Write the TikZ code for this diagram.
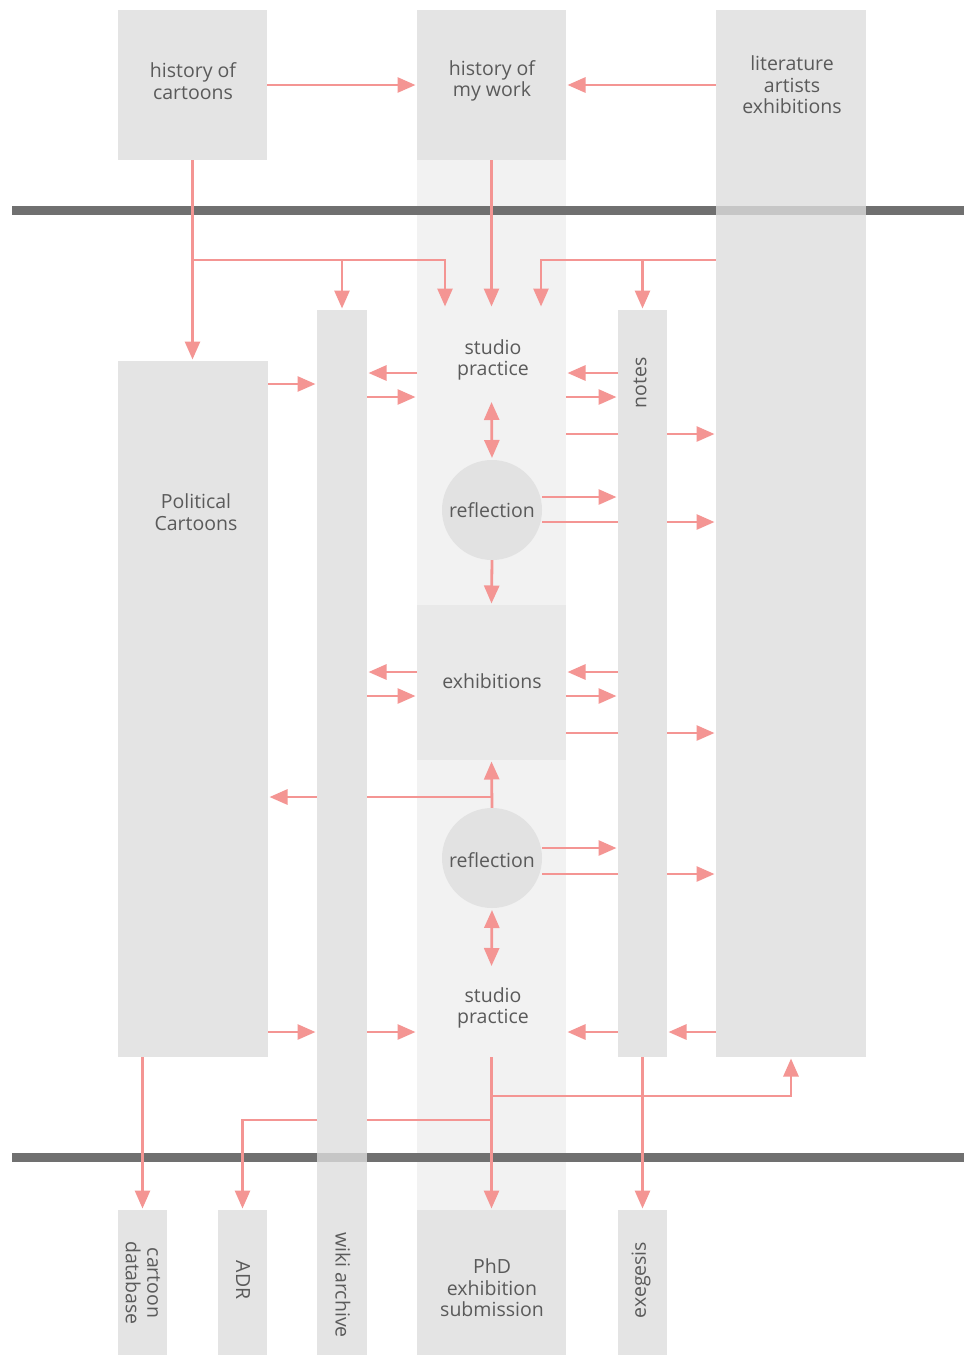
\documentclass[tikz,border=0pt]{standalone}
\usepackage{fontspec}
\setmainfont{Open Sans}
\usetikzlibrary{arrows.meta,calc}
\definecolor{boxg}{HTML}{E4E4E4}
\definecolor{bandg}{HTML}{F2F2F2}
\definecolor{exg}{HTML}{E9E9E9}
\definecolor{circg}{HTML}{E2E2E2}
\definecolor{barg}{HTML}{707070}
\definecolor{patchg}{HTML}{C6C6C6}
\definecolor{pinkc}{HTML}{F49593}
\definecolor{txtg}{HTML}{5A5A5A}
\pgfdeclarelayer{bgl}
\pgfdeclarelayer{arrl}
\pgfsetlayers{bgl,arrl,main}
\newcommand\hto[3]{\draw[arr] (#1 |- 0,#3) -- (#2 |- 0,#3);}
\begin{document}
\begin{tikzpicture}[x=1pt,y=-1pt,
  col/.style={fill=boxg,draw=none,inner sep=0pt,outer sep=0pt},
  ghost/.style={draw=none,fill=none,inner sep=0pt,outer sep=0pt},
  circ/.style={circle,fill=circg,draw=none,inner sep=0pt,outer sep=0pt,minimum size=100pt},
  lbl/.style={text=txtg,font=\fontsize{19.5}{21.5}\selectfont,align=center,inner sep=0pt},
  arr/.style={draw=pinkc,line width=2.8pt,shorten >=1.5pt,-{Triangle[length=18pt,width=15pt]}},
  dbl/.style={draw=pinkc,line width=2.8pt,shorten >=2pt,shorten <=2pt,{Triangle[length=18pt,width=15pt]}-{Triangle[length=18pt,width=15pt]}}]
\useasboundingbox (0,0) rectangle (964,1355);

\begin{pgfonlayer}{bgl}
  \fill[white] (0,0) rectangle (964,1355);
  \fill[bandg] (417,160) rectangle (566,1210);
  \fill[barg] (12,206) rectangle (964,215);
  \fill[barg] (12,1153) rectangle (964,1162);
\end{pgfonlayer}

% boxes and columns
\node[col,minimum width=149pt,minimum height=150pt] (hc) at (192.5,85) {};
\node[col,minimum width=149pt,minimum height=150pt] (hw) at (491.5,85) {};
\node[col,minimum width=150pt,minimum height=1047pt] (lit) at (791,533.5) {};
\node[col,minimum width=150pt,minimum height=696pt] (pc) at (193,709) {};
\node[col,minimum width=50pt,minimum height=1045pt] (wiki) at (342,832.5) {};
\node[col,minimum width=49pt,minimum height=747pt] (notes) at (642.5,683.5) {};
\node[ghost,minimum width=149pt,minimum height=92pt] (sp1) at (491.5,354) {};
\node[circ] (ref1) at (492,510) {};
\node[col,fill=exg,minimum width=149pt,minimum height=155pt] (ex) at (491.5,682.5) {};
\node[circ] (ref2) at (492,858) {};
\node[ghost,minimum width=149pt,minimum height=89pt] (sp2) at (491.5,1012.5) {};
\node[col,minimum width=49pt,minimum height=145pt] (cdb) at (142.5,1282.5) {};
\node[col,minimum width=49pt,minimum height=145pt] (adr) at (242.5,1282.5) {};
\node[col,minimum width=149pt,minimum height=145pt] (phd) at (491.5,1282.5) {};
\node[col,minimum width=49pt,minimum height=145pt] (exg) at (642.5,1282.5) {};

% lighter bar segments under the columns
\fill[patchg] (lit.west |- 0,206) rectangle (lit.east |- 0,215);
\fill[patchg] (wiki.west |- 0,1153) rectangle (wiki.east |- 0,1162);

% labels
\node[lbl] (hcT) at (193,81) {history of\\cartoons};
\node[lbl] (hwT) at (492,81) {history of\\my work};
\node[lbl] (litT) at (792,85) {literature\\artists\\exhibitions};
\node[lbl] (pcT) at (196,512) {Political\\Cartoons};
\node[lbl] (sp1T) at (493,360) {studio\\practice};
\node[lbl] (ref1T) at (492,510) {reflection};
\node[lbl] (exT) at (492,681) {exhibitions};
\node[lbl] (ref2T) at (492,860) {reflection};
\node[lbl] (sp2T) at (493,1008) {studio\\practice};
\node[lbl,rotate=90] (notesT) at (640,383) {notes};
\node[lbl,rotate=-90] (wikiT) at (343,1285) {wiki archive};
\node[lbl,rotate=-90] (cdbT) at (143,1283) {cartoon\\database};
\node[lbl,rotate=-90] (adrT) at (243,1280) {ADR};
\node[lbl] (phdT) at (492,1288) {PhD\\exhibition\\submission};
\node[lbl,rotate=90] (exgT) at (641,1280) {exegesis};

% connectors
\begin{pgfonlayer}{arrl}
  \draw[arr] (hc.east) -- (hw.west);
  \draw[arr] (lit.west |- hw.east) -- (hw.east);
  \draw[arr] (hc.south) -- (hc.south |- pc.north);
  \coordinate (jl) at (hc.south |- 0,260);
  \coordinate (jr) at (lit.west |- 0,260);
  \draw[arr] (jl) -| ($(sp1.north west)+(28,0)$);
  \draw[arr] (wiki.north |- jl) -- (wiki.north);
  \draw[arr] (hw.south) -- (sp1.north);
  \draw[arr] (jr) -| ($(sp1.north east)+(-25,0)$);
  \draw[arr] (notes.north |- jr) -- (notes.north);

  \hto{pc.east}{wiki.west}{384}
  \hto{sp1.west}{wiki.east}{373}
  \hto{wiki.east}{sp1.west}{397}
  \hto{notes.west}{sp1.east}{373}
  \hto{sp1.east}{notes.west}{397}
  \hto{sp1.east}{lit.west}{434}
  \hto{ref1.east}{notes.west}{497}
  \hto{ref1.east}{lit.west}{522}
  \hto{ex.west}{wiki.east}{672}
  \hto{wiki.east}{ex.west}{696}
  \hto{notes.west}{ex.east}{672}
  \hto{ex.east}{notes.west}{696}
  \hto{ex.east}{lit.west}{733}
  \hto{ref2.east}{notes.west}{848}
  \hto{ref2.east}{lit.west}{874}
  \hto{pc.east}{wiki.west}{1032}
  \hto{wiki.east}{sp2.west}{1032}
  \hto{notes.west}{sp2.east}{1032}
  \hto{lit.west}{notes.east}{1032}

  \draw[dbl] (sp1.south) -- (ref1.north);
  \draw[arr] (ref1.south) -- (ex.north);
  \draw[arr] (ref2.north) -- (ex.south);
  \coordinate (jc) at (ref2.north |- 0,797);
  \draw[arr] (jc) -- (pc.east |- jc);
  \draw[dbl] (ref2.south) -- (sp2.north);
  \draw[arr] (sp2.south) -- (phd.north);
  \coordinate (jb1) at (sp2.south |- 0,1096);
  \draw[arr] (jb1) -| (lit.south);
  \coordinate (jb2) at (sp2.south |- 0,1120);
  \draw[arr] (jb2) -| (adr.north);
  \draw[arr] (cdb.north |- pc.south) -- (cdb.north);
  \draw[arr] (notes.south) -- (exg.north);
\end{pgfonlayer}
\end{tikzpicture}
\end{document}
